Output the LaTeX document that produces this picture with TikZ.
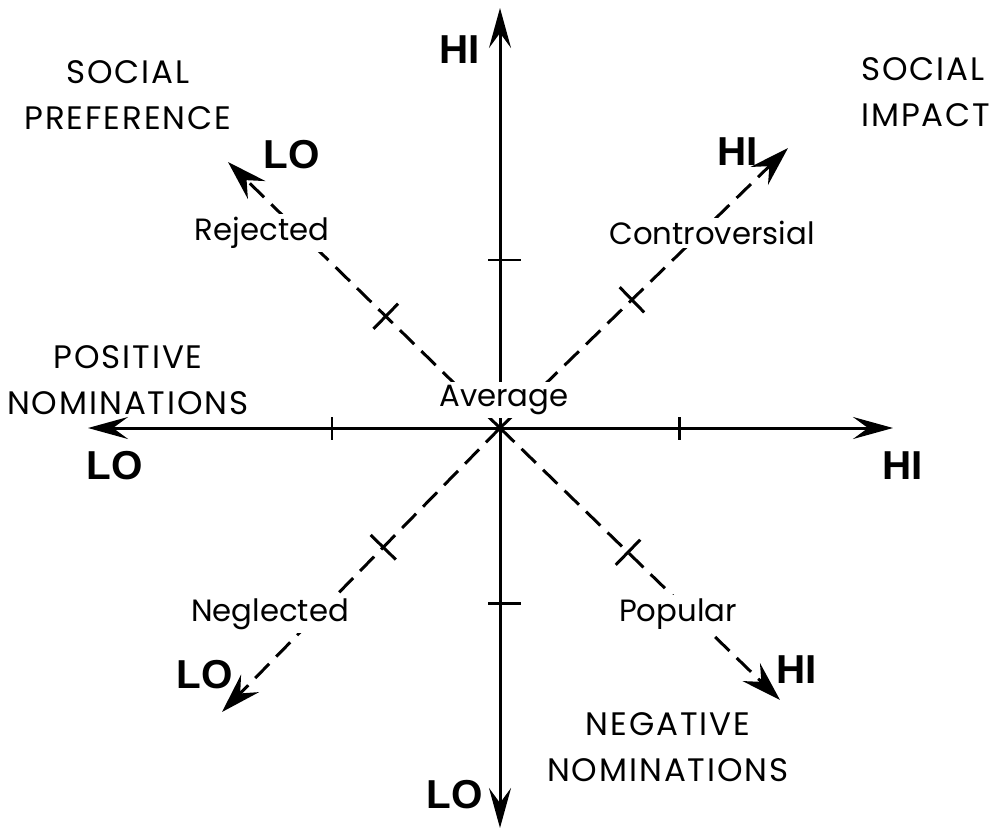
\documentclass[tikz,border=0pt]{standalone}
\usepackage{fontspec}
\setmainfont{Poppins}
\newfontfamily\hilofont{Liberation Sans}
\usetikzlibrary{arrows.meta,calc}

\tikzset{
	axis/.style={line width=1.7pt,-{Stealth[length=8mm,width=4.4mm,inset=3mm]}},
	diag/.style={line width=1.7pt,dash pattern=on 4mm off 2mm,-{Stealth[length=8mm,width=5mm,inset=2.8mm]}},
	tick/.style={line width=1.7pt},
	lab/.style={font=\fontsize{17.5}{24}\selectfont,fill=white,inner sep=2pt},
	title/.style={font=\addfontfeature{LetterSpace=6}\fontsize{18.5}{26}\selectfont,align=center,inner sep=0pt},
	hilo/.style={font=\hilofont\bfseries\fontsize{23}{25}\selectfont,inner sep=0pt},
}

\begin{document}
\begin{tikzpicture}[x=0.02cm,y=-0.02cm]
		\useasboundingbox (0,0) rectangle (1000,835);
	
		% centre and arrow ends
		\coordinate (O) at (500,428);
		\coordinate (N) at (500,8);
		\coordinate (S) at (500,828);
		\coordinate (W) at (88,428);
		\coordinate (E) at (893,428);
		\coordinate (ul) at (228,162);
		\coordinate (ur) at (788,148);
		\coordinate (ll) at (222,712);
		\coordinate (lr) at (780,700);
	
		% draw axes
		\draw[axis] (O) -- (N);
		\draw[axis] (O) -- (S);
		\draw[axis] (O) -- (W);
		\draw[axis] (O) -- (E);
	
		% draw axis ticks
		\foreach \x in {332,679}
			\draw[tick] (\x,417) -- (\x,440);
		\foreach \y in {260,603}
			\draw[tick] (488,\y) -- (521,\y);
	
		% draw diagonals with ticks
		\foreach \d/\p in {ul/0.42,ur/0.458,ll/0.42,lr/0.457}
		{
			\draw[diag] (O) -- (\d) coordinate[pos=\p] (t\d);
			\draw[tick] ($(t\d)!10pt!90:(O)$) -- ($(t\d)!10pt!-90:(O)$);
		}
	
		% draw category labels
		\node[lab] (rejected) at (262,233) {Rejected};
		\node[lab] (controversial) at (712,233) {Controversial};
		\node[lab] (neglected) at (270,614) {Neglected};
		\node[lab] (popular) at (678,614) {Popular};
		\node[lab] (average) at (504,400) {Average};
	
		% draw HI / LO labels
		\node[hilo] (hiN) at (460,50) {HI};
		\node[hilo] (loS) at (455,795) {LO};
		\node[hilo] (loW) at (115,466) {LO};
		\node[hilo] (hiE) at (903,466) {HI};
		\node[hilo] (loUL) at (292,155) {LO};
		\node[hilo] (hiUR) at (738,152) {HI};
		\node[hilo] (loLL) at (205,675) {LO};
		\node[hilo] (hiLR) at (797,670) {HI};
	
		% draw dimension names
		\node[title] (pref) at (128,95) {SOCIAL\\PREFERENCE};
		\node[title,align=left,anchor=west] (impact) at (861,92) {SOCIAL\\IMPACT};
		\node[title] (posnom) at (128,380) {POSITIVE\\NOMINATIONS};
		\node[title] (negnom) at (668,747) {NEGATIVE\\NOMINATIONS};
	\end{tikzpicture}
\end{document}
